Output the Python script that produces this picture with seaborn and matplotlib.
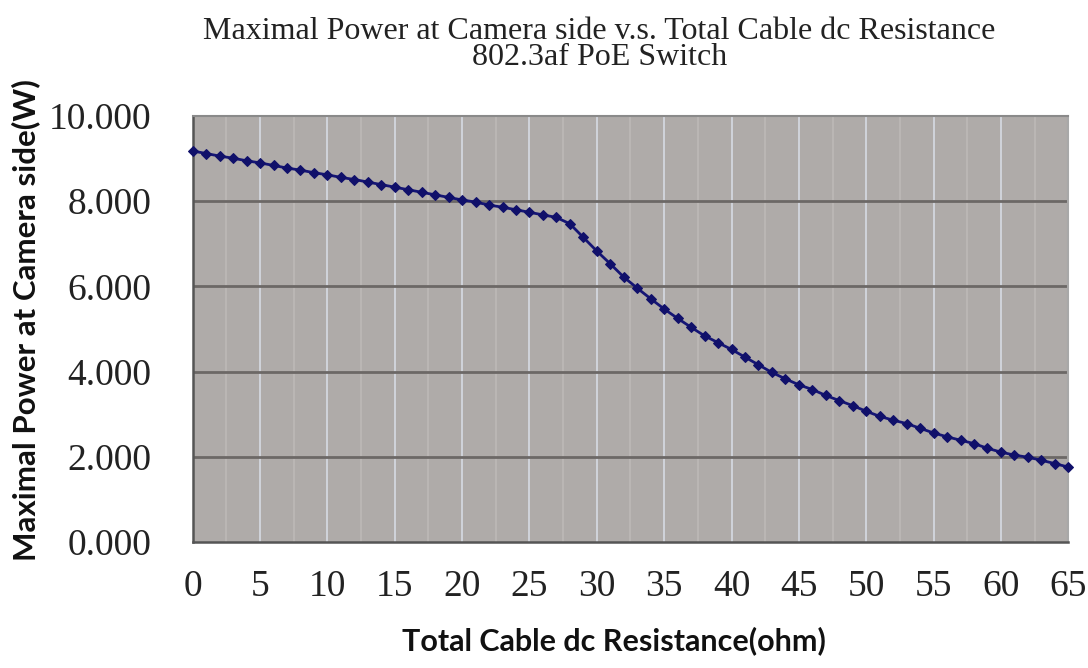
import matplotlib
matplotlib.use("Agg")
import matplotlib.pyplot as plt
import seaborn as sns
import numpy as np
import pandas as pd
from matplotlib.ticker import MultipleLocator, FormatStrFormatter

# ---- data ----
resistance_ohm = list(range(0, 66))
power_w = [9.18, 9.12, 9.06, 9.01, 8.95, 8.90, 8.84, 8.78, 8.73, 8.67,
           8.62, 8.56, 8.51, 8.45, 8.39, 8.33, 8.27, 8.21, 8.15, 8.09,
           8.03, 7.98, 7.91, 7.86, 7.80, 7.74, 7.68, 7.62, 7.47, 7.15,
           6.83, 6.53, 6.22, 5.96, 5.71, 5.47, 5.25, 5.04, 4.84, 4.68,
           4.52, 4.34, 4.16, 3.98, 3.83, 3.69, 3.58, 3.44, 3.32, 3.20,
           3.07, 2.95, 2.86, 2.78, 2.67, 2.56, 2.47, 2.39, 2.31, 2.20,
           2.11, 2.04, 1.99, 1.92, 1.84, 1.76]
title_line1 = "Maximal Power at Camera side v.s. Total Cable dc Resistance"
title_line2 = "802.3af PoE Switch"
x_label = "Total Cable dc Resistance(ohm)"
y_label = "Maximal Power at Camera side(W)"

df = pd.DataFrame({"R": resistance_ohm, "P": power_w})

sns.set_style("white")
plt.rcParams["font.family"] = ["Liberation Serif", "DejaVu Serif"]

fig = plt.figure(figsize=(10.88, 6.68), dpi=100)
ax = fig.add_axes([0.1771, 0.1886, 0.9819 - 0.1771, 0.8263 - 0.1886])
ax.set_facecolor("#afaba9")

sns.lineplot(data=df, x="R", y="P", ax=ax, color="#151575", linewidth=2.0,
             marker="D", markersize=5.5, markeredgecolor="#10106a",
             markerfacecolor="#10106a", clip_on=False, zorder=5)

ax.set_xlim(0, 65)
ax.set_ylim(0, 10)
ax.xaxis.set_major_locator(MultipleLocator(5))
ax.xaxis.set_minor_locator(MultipleLocator(2.5))
ax.yaxis.set_major_locator(MultipleLocator(2))
ax.yaxis.set_major_formatter(FormatStrFormatter("%.3f"))

# grid lines
for v in np.arange(2.5, 65, 5):
    ax.axvline(v, color="#bdb9b7", linewidth=1.2, zorder=1)
for v in np.arange(5, 65, 5):
    ax.axvline(v, color="#d6dbe3", linewidth=1.2, zorder=1)
for v in [2, 4, 6, 8]:
    ax.axhline(v, color="#6c6866", linewidth=2.0, zorder=2)

ax.tick_params(axis="x", which="major", direction="in", length=9, width=1.5,
               color="#333333", labelsize=27, pad=20)
ax.tick_params(axis="x", which="minor", direction="out", length=8, width=1.2,
               color="#333333")
ax.tick_params(axis="y", which="major", length=0, labelsize=27, pad=30)
for lab in ax.get_xticklabels() + ax.get_yticklabels():
    lab.set_color("#222222")

for s in ["left", "bottom"]:
    ax.spines[s].set_color("#555555")
    ax.spines[s].set_linewidth(1.8)
ax.spines["top"].set_color("#8a8a8a")
ax.spines["top"].set_linewidth(1.5)
ax.spines["right"].set_color("#a8a8a8")
ax.spines["right"].set_linewidth(1.5)

ax.set_xlabel("")
ax.set_ylabel("")
fig.text(0.551, 1 - 65 / 668, title_line1 + "\n" + title_line2, ha="center",
         va="baseline", multialignment="center", linespacing=0.88,
         fontsize=23, color="#222222", family=["Liberation Serif"])
fig.text(614 / 1088, 1 - 650 / 668, x_label, ha="center", va="baseline",
         fontsize=22, fontweight="bold", color="#111111", family=["Lato", "DejaVu Sans"])
fig.text(26 / 1088, 1 - 320 / 668, y_label, ha="center", va="center",
         rotation=90, fontsize=22.5, fontweight="bold", color="#111111",
         family=["Lato", "DejaVu Sans"])

fig.savefig("out.png", dpi=100)
